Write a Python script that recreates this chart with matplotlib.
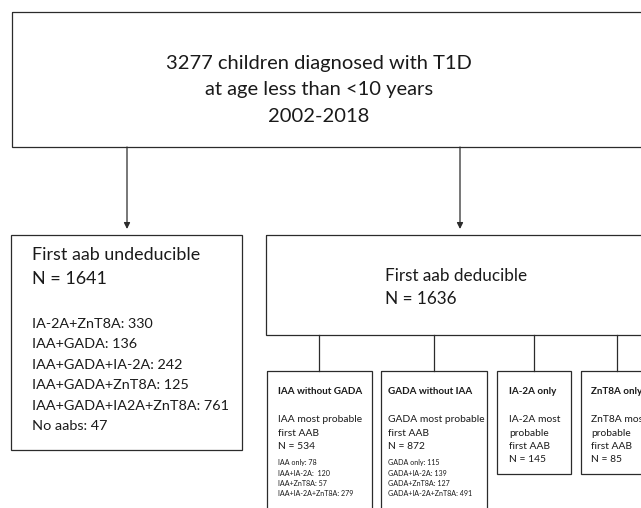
import matplotlib
matplotlib.use("Agg")
import matplotlib.pyplot as plt
from matplotlib.patches import Rectangle

# ---- content ----
top_lines = ["3277 children diagnosed with T1D", "at age less than <10 years", "2002-2018"]
undeducible_title = ["First aab undeducible", "N = 1641"]
undeducible_list = ["IA-2A+ZnT8A: 330", "IAA+GADA: 136", "IAA+GADA+IA-2A: 242",
                    "IAA+GADA+ZnT8A: 125", "IAA+GADA+IA2A+ZnT8A: 761", "No aabs: 47"]
deducible_lines = ["First aab deducible", "N = 1636"]
sub_titles = ["IAA without GADA", "GADA without IAA", "IA-2A only", "ZnT8A only"]
sub_body = [["IAA most probable", "first AAB", "N = 534"],
            ["GADA most probable", "first AAB", "N = 872"],
            ["IA-2A most", "probable", "first AAB", "N = 145"],
            ["ZnT8A most", "probable", "first AAB", "N = 85"]]
sub_detail = [["IAA only: 78", "IAA+IA-2A:  120", "IAA+ZnT8A: 57", "IAA+IA-2A+ZnT8A: 279"],
              ["GADA only: 115", "GADA+IA-2A: 139", "GADA+ZnT8A: 127", "GADA+IA-2A+ZnT8A: 491"],
              [], []]

FONT = "Lato"
W, H = 641, 508
fig = plt.figure(figsize=(W / 100, H / 100), dpi=100)
ax = fig.add_axes([0, 0, 1, 1])
ax.set_xlim(0, W)
ax.set_ylim(H, 0)
ax.axis("off")

LC = "#2b2b2b"
LW = 0.9


def box(x0, y0, x1, y1):
    ax.add_patch(Rectangle((x0, y0), x1 - x0, y1 - y0, fill=False, ec=LC, lw=LW))


def vline(x, y0, y1):
    ax.plot([x, x], [y0, y1], color=LC, lw=LW)


def arrow(x, y0, y1):
    ax.annotate("", xy=(x, y1), xytext=(x, y0),
                arrowprops=dict(arrowstyle="-|>", color=LC, lw=LW,
                                mutation_scale=9, shrinkA=0, shrinkB=0))


def txt(x, y, s, size, ha="left", weight="normal"):
    ax.text(x, y, s, fontsize=size, ha=ha, va="center", family=FONT,
            weight=weight, color="#1a1a1a")


# top box
box(12, 12, 660, 147)
for i, s in enumerate(top_lines):
    txt(319, 63 + 27 * i, s, 14.5, ha="center")

arrow(127, 147, 229)
arrow(460, 147, 229)

# undeducible box
box(11, 235, 242, 450)
txt(32, 255, undeducible_title[0], 12.9)
txt(32, 279, undeducible_title[1], 12.9)
for i, s in enumerate(undeducible_list):
    txt(32, 324 + 20.4 * i, s, 10.4)

# deducible box
box(266, 235, 660, 335)
txt(385, 276, deducible_lines[0], 12.3)
txt(385, 299, deducible_lines[1], 12.3)

# sub boxes
sub_x = [(267, 372), (381, 487), (497, 571), (581, 660)]
sub_tx = [278, 388, 509, 591]
sub_bottom = [520, 520, 474, 474]
conn_x = [319, 434, 534, 617]
for k in range(4):
    x0, x1 = sub_x[k]
    vline(conn_x[k], 335, 371)
    box(x0, 371, x1, sub_bottom[k])
    tx = sub_tx[k]
    txt(tx, 392, sub_titles[k], 7.1, weight="bold")
    for i, s in enumerate(sub_body[k]):
        txt(tx, 420 + 13.3 * i, s, 7.4)
    for i, s in enumerate(sub_detail[k]):
        txt(tx, 463 + 10 * i, s, 5.1)

fig.savefig("out.png", dpi=100)
